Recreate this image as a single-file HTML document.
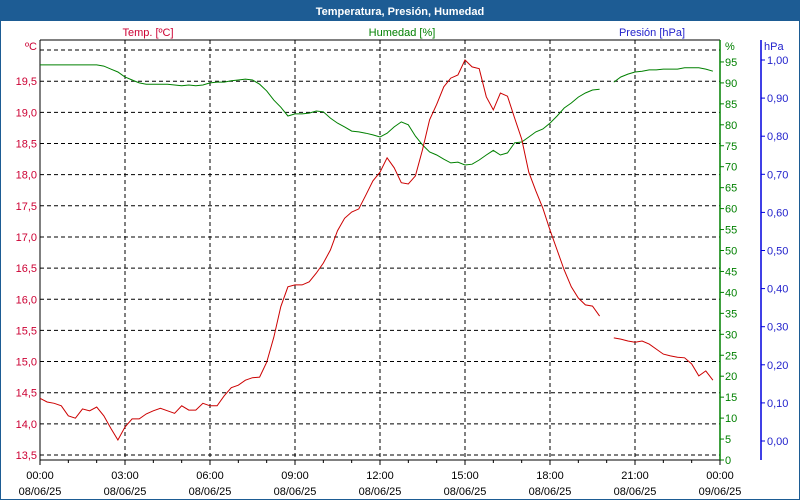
<!DOCTYPE html>
<html><head><meta charset="utf-8"><style>
body{margin:0;background:#fff;font-family:"Liberation Sans",sans-serif}
#wrap{position:relative;width:800px;height:500px;overflow:hidden}
svg text{font-family:"Liberation Sans",sans-serif;font-size:11px}
</style></head><body>
<div id="wrap">
<svg id="chart" width="800" height="500"></svg>
</div>
<script>
const timeTickLabels=["00:00","03:00","06:00","09:00","12:00","15:00","18:00","21:00","00:00"];
const dateTickLabels=["08/06/25","08/06/25","08/06/25","08/06/25","08/06/25","08/06/25","08/06/25","08/06/25","09/06/25"];
const tempTicks=[13.5,14.0,14.5,15.0,15.5,16.0,16.5,17.0,17.5,18.0,18.5,19.0,19.5];
const humTicks=[0,5,10,15,20,25,30,35,40,45,50,55,60,65,70,75,80,85,90,95];
const presTicks=[0,0.1,0.2,0.3,0.4,0.5,0.6,0.7,0.8,0.9,1.0];
const sampleStepHours=0.25;
const temperature=[14.41,14.35,14.33,14.29,14.13,14.09,14.24,14.21,14.27,14.13,13.93,13.74,13.95,14.08,14.08,14.16,14.21,14.25,14.21,14.17,14.29,14.22,14.22,14.33,14.29,14.29,14.45,14.58,14.62,14.70,14.74,14.75,14.99,15.39,15.88,16.20,16.23,16.23,16.28,16.42,16.58,16.79,17.10,17.30,17.40,17.45,17.67,17.90,18.04,18.27,18.11,17.87,17.85,17.98,18.40,18.88,19.13,19.41,19.55,19.60,19.84,19.73,19.70,19.25,19.04,19.31,19.26,18.91,18.57,18.04,17.74,17.46,17.11,16.79,16.47,16.20,16.02,15.91,15.89,15.73,null,15.38,15.36,15.33,15.31,15.33,15.28,15.20,15.12,15.09,15.07,15.06,14.96,14.77,14.85,14.70];
const humidity=[94.3,94.3,94.3,94.3,94.3,94.3,94.3,94.3,94.3,94.0,93.3,92.6,91.4,90.7,90.0,89.7,89.7,89.7,89.7,89.5,89.3,89.5,89.3,89.5,90.0,90.2,90.2,90.5,90.7,90.9,90.7,89.7,88.1,85.9,84.2,82.1,82.6,82.6,82.8,83.3,83.1,81.6,80.4,79.5,78.5,78.3,78.0,77.6,77.1,78.0,79.5,80.7,80.0,77.3,75.2,73.5,72.8,71.8,70.9,71.1,70.4,70.6,71.6,72.8,73.9,72.8,73.3,75.7,75.9,77.1,78.3,79.0,80.4,82.1,84.0,85.2,86.6,87.6,88.3,88.5,null,90.2,91.4,92.1,92.6,92.8,93.1,93.1,93.3,93.3,93.3,93.6,93.6,93.6,93.3,92.8];

const NS="http://www.w3.org/2000/svg";
const svg=document.getElementById('chart');
function mk(tag,attrs,parent){const e=document.createElementNS(NS,tag);for(const k in attrs)e.setAttribute(k,attrs[k]);(parent||svg).appendChild(e);return e;}
const L=40,R=720,T=40,B=460;
const xOf=h=>L+(h/24)*(R-L);
const yT=v=>455-(v-13.5)*62.3;
const yH=v=>460-v*4.19;
const yP=v=>441-v*381;
const fmt=(v,d)=>v.toFixed(d).replace('.',',');

// frame
let e=mk('rect',{x:0,y:0,width:800,height:500,fill:'#fff',stroke:'#1d5c94','stroke-width':2});

e=mk('rect',{x:0,y:0,width:800,height:21,fill:'#1d5c94'});

e=mk('text',{x:400,y:15,'text-anchor':'middle',fill:'#fff','font-weight':'bold','font-size':'12'});e.textContent='Temperatura, Presión, Humedad';


// series titles
e=mk('text',{x:148,y:36,'text-anchor':'middle',fill:'#cc0033'});e.textContent='Temp. [ºC]';

e=mk('text',{x:402,y:36,'text-anchor':'middle',fill:'#008000'});e.textContent='Humedad [%]';

e=mk('text',{x:652,y:36,'text-anchor':'middle',fill:'#2222cc'});e.textContent='Presión [hPa]';


// grid
const tgrid=tempTicks.concat([20.0]);
tgrid.forEach(v=>{const g=mk('line',{x1:L,x2:R,y1:yT(v),y2:yT(v),stroke:'#000','stroke-dasharray':'4,3','stroke-width':1});
});
for(let i=1;i<8;i++){const g=mk('line',{x1:xOf(i*3),x2:xOf(i*3),y1:T,y2:B,stroke:'#000','stroke-dasharray':'4,3'});
}

// axes
e=mk('line',{x1:L,x2:L,y1:T,y2:B,stroke:'#000'});
e=mk('line',{x1:L,x2:R,y1:T,y2:T,stroke:'#000'});
e=mk('line',{x1:L,x2:R,y1:B,y2:B,stroke:'#000'});
e=mk('line',{x1:R,x2:R,y1:T,y2:B,stroke:'#008000','stroke-width':1.5});
e=mk('line',{x1:761,x2:761,y1:T,y2:B,stroke:'#0000dd','stroke-width':1.5});

e=mk('text',{x:37,y:50,'text-anchor':'end',fill:'#cc0033'});e.textContent='ºC';
tempTicks.forEach(v=>{const t=mk('text',{x:37,y:yT(v)+4,'text-anchor':'end',fill:'#cc0033'});t.textContent=fmt(v,1);
});

e=mk('text',{x:725,y:50,fill:'#008000'});e.textContent='%';
humTicks.forEach(v=>{const k=mk('line',{x1:R,x2:R+4,y1:yH(v),y2:yH(v),stroke:'#008000'});
const t=mk('text',{x:725,y:yH(v)+4,fill:'#008000'});t.textContent=String(v);
});

e=mk('text',{x:764,y:50,fill:'#2222cc'});e.textContent='hPa';
presTicks.forEach(v=>{const k=mk('line',{x1:761,x2:765,y1:yP(v),y2:yP(v),stroke:'#0000dd'});
const t=mk('text',{x:767,y:yP(v)+4,fill:'#2222cc'});t.textContent=fmt(v,2);
});

for(let h=0;h<=24;h++){const k=mk('line',{x1:xOf(h),x2:xOf(h),y1:B,y2:B+(h%3==0?5:3),stroke:'#000'});}
timeTickLabels.forEach((s,i)=>{const t=mk('text',{x:xOf(i*3),y:479,'text-anchor':'middle',fill:'#000'});t.textContent=s;

const d=mk('text',{x:xOf(i*3),y:495,'text-anchor':'middle',fill:'#000'});d.textContent=dateTickLabels[i];
});

function pathFor(arr,yf){let d='',pen=false;arr.forEach((v,i)=>{if(v==null){pen=false;return;}d+=(pen?'L':'M')+xOf(i*sampleStepHours).toFixed(1)+','+yf(v).toFixed(1);pen=true;});return d;}
e=mk('path',{d:pathFor(humidity,yH),fill:'none',stroke:'#008000','stroke-width':1});

e=mk('path',{d:pathFor(temperature,yT),fill:'none',stroke:'#cc0000','stroke-width':1});

</script>
</body></html>
